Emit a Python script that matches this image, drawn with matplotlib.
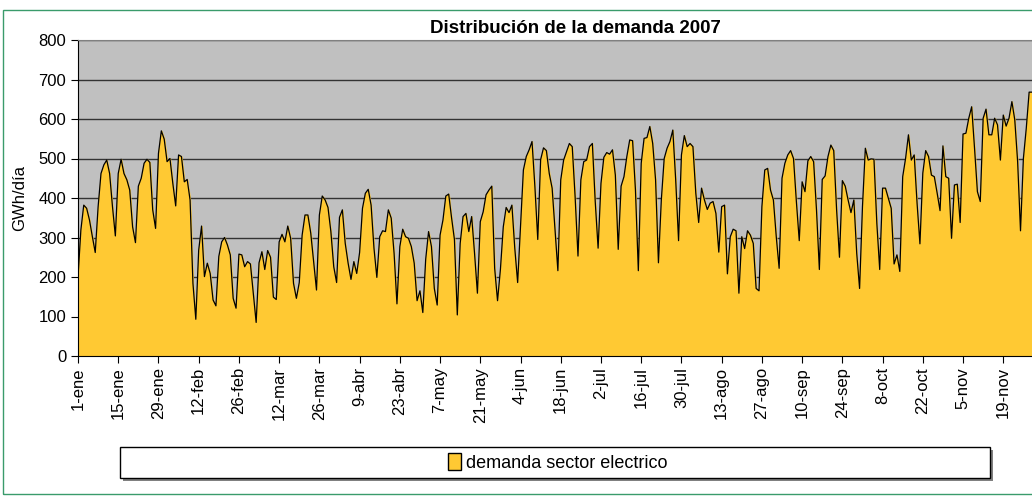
import matplotlib.pyplot as plt
from matplotlib.patches import Patch, Rectangle

plt.rcParams['font.family'] = ['Liberation Sans', 'DejaVu Sans']

# demanda diaria sector electrico (GWh/dia), 1-ene .. 28-nov 2007
demanda = [
    200, 319, 382, 374, 344, 302, 262, 378, 462, 484, 496, 462, 378, 304,
    462, 498, 462, 446, 420, 327, 287, 430, 450, 488, 498, 490, 370, 323,
    513, 570, 549, 492, 500, 437, 380, 509, 505, 441, 447, 395, 184, 93,
    268, 329, 201, 235, 209, 142, 127, 252, 289, 300, 281, 256, 146, 121,
    258, 256, 226, 239, 233, 159, 85, 236, 264, 219, 267, 250, 149, 143,
    289, 308, 289, 329, 298, 184, 146, 186, 306, 357, 357, 311, 239, 167,
    357, 405, 395, 376, 315, 226, 186, 351, 370, 285, 235, 194, 239, 209,
    262, 374, 412, 422, 382, 273, 199, 302, 317, 315, 370, 349, 260, 132,
    277, 321, 302, 298, 277, 235, 140, 165, 110, 245, 315, 277, 171, 129,
    306, 344, 405, 410, 350, 295, 104, 285, 353, 361, 315, 353, 260, 159,
    340, 365, 408, 420, 430, 222, 140, 219, 327, 376, 363, 382, 273, 186,
    327, 471, 505, 522, 543, 429, 295, 497, 527, 520, 462, 425, 319, 216,
    446, 496, 517, 538, 530, 403, 253, 446, 492, 496, 530, 538, 391, 273,
    437, 503, 515, 511, 522, 458, 270, 430, 454, 505, 547, 545, 420, 216,
    488, 551, 553, 581, 538, 446, 236, 395, 500, 526, 543, 572, 446, 292,
    509, 558, 530, 538, 530, 412, 338, 425, 395, 371, 387, 391, 361, 263,
    378, 382, 208, 302, 321, 317, 159, 302, 272, 317, 306, 285, 171, 165,
    378, 471, 475, 420, 395, 302, 222, 450, 488, 509, 520, 500, 391, 292,
    441, 416, 494, 505, 492, 370, 219, 447, 456, 505, 534, 520, 370, 250,
    444, 430, 395, 363, 395, 260, 171, 378, 526, 496, 499, 498, 336, 219,
    425, 425, 399, 374, 233, 256, 214, 454, 500, 560, 496, 509, 387, 284,
    463, 520, 505, 458, 454, 412, 368, 532, 454, 450, 298, 433, 435, 338,
    562, 564, 602, 631, 526, 416, 391, 602, 625, 560, 560, 602, 585, 496,
    610, 582, 602, 644, 598, 492, 317, 500, 576, 668, 668,
]

tick_labels = ['1-ene', '15-ene', '29-ene', '12-feb', '26-feb', '12-mar',
               '26-mar', '9-abr', '23-abr', '7-may', '21-may', '4-jun',
               '18-jun', '2-jul', '16-jul', '30-jul', '13-ago', '27-ago',
               '10-sep', '24-sep', '8-oct', '22-oct', '5-nov', '19-nov']

dias = list(range(len(demanda)))
amarillo = '#FFC933'

fig = plt.figure(figsize=(10.32, 4.96), dpi=100)
ax = fig.add_axes([78 / 1032, 1 - 356 / 496, 954 / 1032, 316 / 496])
ax.set_facecolor('#C0C0C0')

ax.fill_between(dias, demanda, 0, color=amarillo, zorder=2)
ax.plot(dias, demanda, color='black', lw=0.9, zorder=3)

ax.set_xlim(0, len(demanda) - 1)
ax.set_ylim(0, 800)
ax.set_yticks(range(0, 801, 100))
ax.yaxis.grid(True, color='#333333', lw=1)
ax.set_axisbelow(True)
ax.set_xticks(range(0, 14 * len(tick_labels), 14))
ax.set_xticklabels(tick_labels, rotation=90)
ax.tick_params(axis='both', direction='out', length=5, labelsize=12, color='black')
ax.tick_params(axis='x', pad=3)

ax.spines['top'].set_color('#808080')
ax.spines['right'].set_visible(False)

ax.set_ylabel('GWh/día', fontsize=12, labelpad=8)
ax.set_title('Distribución de la demanda 2007', fontsize=13.5, fontweight='bold',
             pad=5, x=(575 - 78) / 954)

# caja de la leyenda con sombra
fig.patches.append(Rectangle((123 / 1032, 1 - 481 / 496), 870 / 1032, 31 / 496,
                             transform=fig.transFigure, facecolor='#808080',
                             edgecolor='none', zorder=0))
fig.patches.append(Rectangle((120 / 1032, 1 - 478 / 496), 870 / 1032, 31 / 496,
                             transform=fig.transFigure, facecolor='white',
                             edgecolor='black', lw=1, zorder=1))
fig.legend(handles=[Patch(facecolor=amarillo, edgecolor='black', label='demanda sector electrico')],
           loc='center', bbox_to_anchor=(558 / 1032, 1 - 462.5 / 496), frameon=False,
           fontsize=13, handlelength=0.7, handleheight=1.0, handletextpad=0.3)

# marco exterior
fig.patches.append(Rectangle((3 / 1032, 1 - 494 / 496), 1.0, 484 / 496,
                             transform=fig.transFigure, facecolor='none',
                             edgecolor='#3A9B6B', lw=1, zorder=0))

fig.savefig('out.png', dpi=100)
